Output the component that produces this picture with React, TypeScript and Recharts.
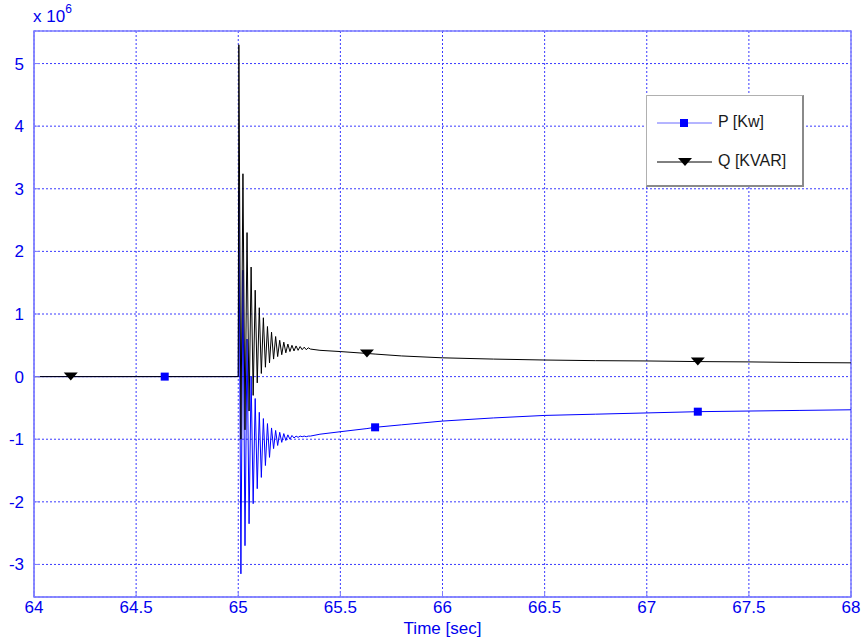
import React from 'react';
import { LineChart, Line, XAxis, YAxis, CartesianGrid, ReferenceArea } from 'recharts';

// time axis [sec]
const TIME = [
  64, 64.18, 64.64, 65.0,
  65.003, 65.013, 65.023, 65.033, 65.043, 65.053, 65.063, 65.073, 65.083, 65.093,
  65.103, 65.113, 65.123, 65.133, 65.143, 65.153, 65.163, 65.173, 65.183, 65.193,
  65.203, 65.213, 65.223, 65.233, 65.243, 65.253, 65.263, 65.273, 65.283, 65.293,
  65.303, 65.313, 65.323, 65.333, 65.343, 65.353,
  65.4, 65.5, 65.63, 65.67, 65.8, 66, 66.25, 66.5, 66.75, 67, 67.25, 67.5, 67.75, 68,
];

// active power, x 10^6
const P_VALUES = [
  0, 0, 0, 0,
  2.97, -3.15, 1.7, -2.7, 0.6, -2.35, 0.0, -2.03, -0.35, -1.79,
  -0.57, -1.61, -0.67, -1.42, -0.75, -1.29, -0.82, -1.15, -0.86, -1.1,
  -0.89, -1.05, -0.91, -1.02, -0.93, -1.0, -0.94, -0.98, -0.95, -0.97,
  -0.95, -0.96, -0.95, -0.96, -0.95, -0.95,
  -0.92, -0.88, -0.83, -0.81, -0.77, -0.71, -0.66, -0.62, -0.6, -0.58, -0.56, -0.55, -0.54, -0.53,
];

// reactive power, x 10^6
const Q_VALUES = [
  0, 0, 0, 0,
  5.3, -1.0, 3.24, -0.85, 2.3, -0.55, 1.75, -0.3, 1.38, -0.1,
  1.1, 0.05, 0.94, 0.15, 0.8, 0.22, 0.71, 0.28, 0.64, 0.32,
  0.58, 0.35, 0.55, 0.38, 0.52, 0.4, 0.5, 0.41, 0.49, 0.42,
  0.48, 0.43, 0.47, 0.43, 0.46, 0.44,
  0.42, 0.4, 0.37, 0.36, 0.33, 0.3, 0.28, 0.265, 0.255, 0.25, 0.24, 0.235, 0.225, 0.22,
];

const P_MARKS = [64.64, 65.67, 67.25];
const Q_MARKS = [64.18, 65.63, 67.25];

const X_TICKS = [64, 64.5, 65, 65.5, 66, 66.5, 67, 67.5, 68];
const Y_TICKS = [-3, -2, -1, 0, 1, 2, 3, 4, 5];

const data = TIME.map((t, i) => ({ t, p: P_VALUES[i], q: Q_VALUES[i] }));

const FONT = '"Liberation Sans", Arial, sans-serif';
const BLUE = '#0000ee';
const AXIS = '#7d7dff';

const XTick = (props: any) => {
  const { x, y, payload } = props;
  return (
    <g>
      <line x1={x} x2={x} y1={y} y2={y - 6} stroke={AXIS} />
      <text x={x} y={y + 16} textAnchor="middle" fill={BLUE} fontSize={17} fontFamily={FONT}>
        {payload.value}
      </text>
    </g>
  );
};

const YTick = (props: any) => {
  const { x, y, payload } = props;
  return (
    <g>
      <line x1={x} x2={x + 6} y1={y} y2={y} stroke={AXIS} />
      <text x={x - 10} y={y + 6} textAnchor="end" fill={BLUE} fontSize={17} fontFamily={FONT}>
        {payload.value}
      </text>
    </g>
  );
};

const squareDot = (props: any) => {
  const { cx, cy, payload, index } = props;
  if (!P_MARKS.includes(payload.t)) return <g key={`p-${index}`} />;
  return <rect key={`p-${index}`} x={cx - 4} y={cy - 4} width={8} height={8} fill="#0000ff" />;
};

const triangleDot = (props: any) => {
  const { cx, cy, payload, index } = props;
  if (!Q_MARKS.includes(payload.t)) return <g key={`q-${index}`} />;
  return (
    <path key={`q-${index}`} d={`M${cx - 7},${cy - 4} L${cx + 7},${cy - 4} L${cx},${cy + 4} Z`} fill="#000" />
  );
};

const LegendBox = () => (
  <div
    style={{
      position: 'absolute', left: 646, top: 95, width: 155, height: 89,
      background: '#fff', borderLeft: '1px solid #b0b0b0', borderTop: '1px solid #b0b0b0',
      borderRight: '2px solid #8a8a8a', borderBottom: '2px solid #8a8a8a',
      fontFamily: FONT, fontSize: 16, color: '#1a1a1a',
    }}
  >
    <svg width={70} height={89} style={{ position: 'absolute', left: 0, top: 0 }}>
      <line x1={10} x2={65} y1={27} y2={27} stroke="#6b6bff" />
      <rect x={33} y={23} width={8} height={8} fill="#0000ff" />
      <line x1={10} x2={65} y1={66} y2={66} stroke="#000" />
      <path d="M31,62 L45,62 L38,70 Z" fill="#000" />
    </svg>
    <div style={{ position: 'absolute', left: 71, top: 17 }}>P [Kw]</div>
    <div style={{ position: 'absolute', left: 71, top: 56 }}>Q [KVAR]</div>
  </div>
);

export default function App() {
  return (
    <div style={{ position: 'absolute', left: 0, top: 0, width: 862, height: 640, background: '#fff' }}>
      <LineChart width={862} height={640} data={data} margin={{ top: 31, right: 11, bottom: 0, left: 0 }}>
        <CartesianGrid stroke="#3a3aff" strokeDasharray="2 2" />
        <XAxis
          dataKey="t"
          type="number"
          domain={[64, 68]}
          ticks={X_TICKS}
          height={43}
          tickSize={0}
          tickMargin={0}
          tick={<XTick />}
          axisLine={{ stroke: AXIS }}
          tickLine={false}
          interval={0}
        />
        <YAxis
          type="number"
          domain={[-3.52, 5.52]}
          ticks={Y_TICKS}
          width={34}
          tickSize={0}
          tickMargin={0}
          tick={<YTick />}
          axisLine={{ stroke: AXIS }}
          tickLine={false}
          allowDataOverflow
          interval={0}
        />
        <ReferenceArea x1={64} x2={68} y1={-3.52} y2={5.52} fill="none" stroke={AXIS} strokeWidth={1.5} />
        <Line
          type="linear"
          dataKey="p"
          stroke="#0000ff"
          strokeWidth={1}
          dot={squareDot}
          activeDot={false}
          isAnimationActive={false}
        />
        <Line
          type="linear"
          dataKey="q"
          stroke="#000"
          strokeWidth={1}
          dot={triangleDot}
          activeDot={false}
          isAnimationActive={false}
        />
      </LineChart>
      <div style={{ position: 'absolute', left: 33, top: 4, color: BLUE, fontFamily: FONT, fontSize: 17 }}>
        x 10<sup style={{ fontSize: 12, position: 'relative', top: -2 }}>6</sup>
      </div>
      <div
        style={{
          position: 'absolute', left: 34, width: 817, top: 620, textAlign: 'center',
          color: BLUE, fontFamily: FONT, fontSize: 17, lineHeight: '17px',
        }}
      >
        Time [sec]
      </div>
      <LegendBox />
    </div>
  );
}
